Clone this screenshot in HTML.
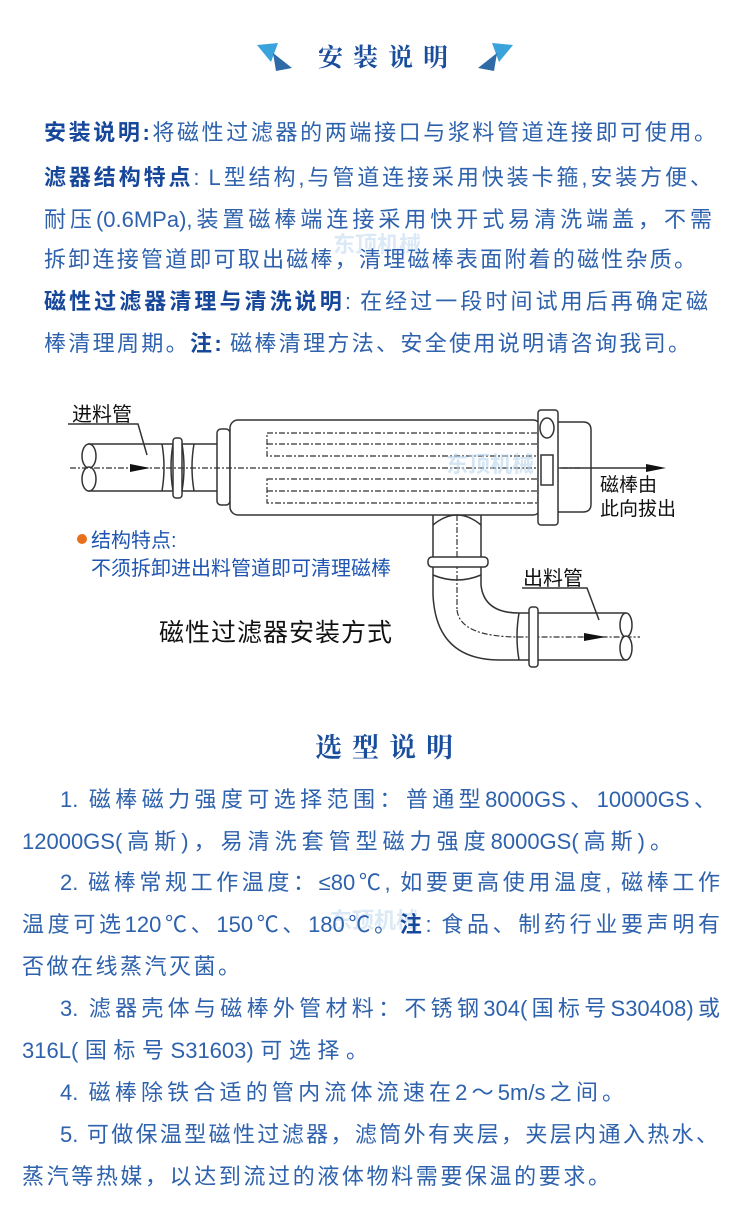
<!DOCTYPE html>
<html><head><meta charset="utf-8"><style>
html,body{margin:0;padding:0;background:#fff;}
body{width:750px;height:1232px;position:relative;overflow:hidden;font-family:"Liberation Sans","Noto Sans CJK SC",sans-serif;}
.h{position:absolute;font-family:"Liberation Serif","Noto Serif CJK SC",serif;font-weight:bold;color:#1a4d9c;font-size:25px;letter-spacing:10px;white-space:nowrap;}
.l{position:absolute;font-size:22px;line-height:28px;color:#2e62ad;white-space:nowrap;}
.j{text-align:justify;text-align-last:justify;}
.l b{color:#16479a;font-weight:bold;}
</style></head><body>
<svg width="750" height="1232" style="position:absolute;left:0;top:0">
 <polygon points="257,45 278,43 271,62" fill="#3aa3dc"/>
 <polygon points="273,53 292,68 276,71" fill="#2e6aa6"/>
 <polygon points="513,45 492,43 499,62" fill="#3aa3dc"/>
 <polygon points="497,53 478,68 494,71" fill="#2e6aa6"/>
 <g fill="none" stroke="#333" stroke-width="1.5">
  <line x1="88" y1="444" x2="162" y2="444"/><line x1="88" y1="491" x2="162" y2="491"/>
  <ellipse cx="89" cy="456" rx="7" ry="12" fill="#fff"/><ellipse cx="89" cy="479" rx="7" ry="12" fill="#fff"/>
  <path d="M162,444 Q166,467 162,491 M173,444 Q169,467 173,491"/>
  <rect x="173" y="438" width="9" height="60" rx="3" fill="#fff"/>
  <path d="M182,444 Q186,467 182,491 M194,444 Q190,467 194,491"/>
  <line x1="182" y1="444" x2="217" y2="444"/><line x1="182" y1="491" x2="217" y2="491"/>
  <line x1="162" y1="444" x2="173" y2="444"/><line x1="162" y1="491" x2="173" y2="491"/>
  <rect x="217" y="429" width="13" height="76" rx="4" fill="#fff"/>
  <rect x="230" y="420" width="311" height="95" rx="8" fill="#fff"/>
  <g stroke-dasharray="6,2,2,2" stroke-width="1.2">
   <rect x="267" y="433" width="271" height="23"/><line x1="267" y1="444" x2="538" y2="444"/>
   <rect x="267" y="479" width="271" height="24"/><line x1="267" y1="491" x2="538" y2="491"/>
   <line x1="70" y1="468" x2="580" y2="468"/>
   <line x1="457" y1="515" x2="457" y2="610" />
   <path d="M457,610 Q460,637 520,637 L640,637"/>
  </g>
  <path d="M558,422 L583,422 Q591,422 591,430 L591,504 Q591,512 583,512 L558,512"/>
  <rect x="538" y="410" width="20" height="115" rx="3" fill="#fff"/>
  <ellipse cx="547" cy="428" rx="7" ry="10" fill="#fff"/>
  <rect x="541" y="455" width="12" height="30" fill="#fff"/>
  <path d="M433,515 L433,557 M481,515 L481,557" />
  <path d="M433,525 Q457,505 481,525"/>
  <rect x="428" y="557" width="60" height="10" rx="4" fill="#fff"/>
  <path d="M433,567 L433,595 Q436,660 500,660 L529,660 M481,567 L481,585 Q484,613 519,613 L529,613"/>
  <path d="M433,575 Q457,585 481,575"/>
  <rect x="529" y="607" width="9" height="60" rx="3" fill="#fff"/>
  <path d="M519,613 Q515,637 519,660"/>
  <line x1="538" y1="613" x2="626" y2="613"/><line x1="538" y1="660" x2="626" y2="660"/>
  <ellipse cx="626" cy="625" rx="6" ry="12" fill="#fff"/><ellipse cx="626" cy="648" rx="6" ry="12" fill="#fff"/>
  <path d="M68,424 L138,424 L147,455"/>
  <path d="M522,588 L587,588 L599,620"/>
  <line x1="560" y1="468" x2="648" y2="468"/>
 </g>
 <polygon points="130,464 150,468 130,472" fill="#111"/>
 <polygon points="646,464 666,468 646,472" fill="#111"/>
 <polygon points="584,633 606,637 584,641" fill="#111"/>
 <circle cx="82" cy="539" r="5" fill="#e8701c"/>
 <text x="446" y="472" font-size="22" font-weight="bold" fill="#b8d4ee" opacity="0.6" font-family="Liberation Sans,Noto Sans CJK SC,sans-serif">东顶机械</text>
 <text x="333" y="252" font-size="22" font-weight="bold" fill="#b8d4ee" opacity="0.5" font-family="Liberation Sans,Noto Sans CJK SC,sans-serif">东顶机械</text>
 <text x="330" y="928" font-size="22" font-weight="bold" fill="#b8d4ee" opacity="0.5" font-family="Liberation Sans,Noto Sans CJK SC,sans-serif">东顶机械</text>
</svg>
<div class="h" style="left:318px;top:38px;">安装说明</div>
<div class="l j" style="left:44px;width:672px;top:119px;"><b>安装说明:</b>将磁性过滤器的两端接口与浆料管道连接即可使用。</div>
<div class="l j" style="left:44px;width:668px;top:164px;"><b>滤器结构特点</b>: L型结构,与管道连接采用快装卡箍,安装方便、</div>
<div class="l j" style="left:44px;width:668px;top:206px;">耐压(0.6MPa),装置磁棒端连接采用快开式易清洗端盖，不需</div>
<div class="l j" style="left:44px;width:652px;top:246px;">拆卸连接管道即可取出磁棒，清理磁棒表面附着的磁性杂质。</div>
<div class="l j" style="left:44px;width:664px;top:288px;"><b>磁性过滤器清理与清洗说明</b>: 在经过一段时间试用后再确定磁</div>
<div class="l j" style="left:44px;width:646px;top:330px;">棒清理周期。<b>注:</b> 磁棒清理方法、安全使用说明请咨询我司。</div>

<div style="position:absolute;left:72px;top:398px;font-size:20px;color:#111;">进料管</div>
<div style="position:absolute;left:600px;top:474px;font-size:19px;line-height:24px;color:#111;">磁棒由<br>此向拔出</div>
<div style="position:absolute;left:91px;top:527px;font-size:20px;line-height:28px;color:#1f55b0;">结构特点:<br>不须拆卸进出料管道即可清理磁棒</div>
<div style="position:absolute;left:523px;top:562px;font-size:20px;color:#111;">出料管</div>
<div style="position:absolute;left:159px;top:613px;font-size:25px;color:#111;letter-spacing:1px;">磁性过滤器安装方式</div>

<div class="h" style="left:315px;top:726px;font-size:27px;">选型说明</div>
<div class="l j" style="left:60px;width:656px;top:786px;">1. 磁棒磁力强度可选择范围：普通型8000GS、10000GS、</div>
<div class="l j" style="left:22px;width:650px;top:828px;">12000GS(高斯)，易清洗套管型磁力强度8000GS(高斯)。</div>
<div class="l j" style="left:60px;width:660px;top:869px;">2. 磁棒常规工作温度：≤80℃, 如要更高使用温度, 磁棒工作</div>
<div class="l j" style="left:22px;width:698px;top:911px;">温度可选120℃、150℃、180℃。<b>注</b>: 食品、制药行业要声明有</div>
<div class="l j" style="left:22px;width:218px;top:953px;">否做在线蒸汽灭菌。</div>
<div class="l j" style="left:60px;width:660px;top:995px;">3. 滤器壳体与磁棒外管材料：不锈钢304(国标号S30408)或</div>
<div class="l j" style="left:22px;width:346px;top:1037px;">316L(国标号S31603)可选择。</div>
<div class="l j" style="left:60px;width:564px;top:1079px;">4. 磁棒除铁合适的管内流体流速在2～5m/s之间。</div>
<div class="l j" style="left:60px;width:658px;top:1121px;">5. 可做保温型磁性过滤器，滤筒外有夹层，夹层内通入热水、</div>
<div class="l j" style="left:22px;width:588px;top:1163px;">蒸汽等热媒，以达到流过的液体物料需要保温的要求。</div>
</body></html>
